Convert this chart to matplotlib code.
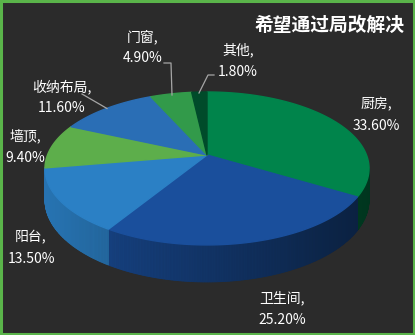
import numpy as np
import matplotlib.pyplot as plt
from matplotlib.patches import Polygon, Rectangle
from matplotlib.colors import to_rgb

plt.rcParams['font.family'] = ['Noto Sans CJK SC', 'DejaVu Sans']

# data
labels = ["厨房", "卫生间", "阳台", "墙顶", "收纳布局", "门窗", "其他"]
values = [33.6, 25.2, 13.5, 9.4, 11.6, 4.9, 1.8]
colors = ["#00844b", "#1a4f9c", "#2b80c5", "#5dae4b", "#2a6eb5", "#329a4a", "#004b2a"]
title = "希望通过局改解决"

# pie geometry in pixel space (perspective-projected disc)
cx, cy = 207, 155
A, B, K = 159.5, 74.1, 0.176
H = 30.5


def top_pt(th):
    u, v = np.sin(th), np.cos(th)
    s = 1 + K * v
    return cx + A * u / s, cy - B * v / s


def bot_pt(th):
    x, y = top_pt(th)
    v = np.cos(th)
    return x, y + H / (1 + K * v)


fig = plt.figure(figsize=(4.15, 3.35), dpi=100)
fig.patch.set_facecolor("#2b2b2b")
ax = fig.add_axes([0, 0, 1, 1])
ax.set_xlim(0, 415)
ax.set_ylim(335, 0)
ax.axis("off")

ax.add_patch(Rectangle((1, 1), 413, 333, fill=False, edgecolor="#5ab44a", linewidth=2.2))

fracs = np.array(values) / sum(values)
edges = np.concatenate([[0], np.cumsum(fracs)]) * 2 * np.pi

# side walls: only the part between the silhouette points is visible
vis_lo = np.arccos(-K)
vis_hi = 2 * np.pi - vis_lo
for i, c in enumerate(colors):
    a0, a1 = edges[i], edges[i + 1]
    lo, hi = max(a0, vis_lo), min(a1, vis_hi)
    if lo >= hi:
        continue
    ts = np.linspace(lo, hi, max(3, int((hi - lo) * 120)))
    rgb = np.array(to_rgb(c))
    for t0, t1 in zip(ts[:-1], ts[1:]):
        p0, p1 = top_pt(t0), top_pt(t1)
        q0, q1 = bot_pt(t0), bot_pt(t1)
        xm = (p0[0] + p1[0]) / 2
        f = 0.9 - (xm - 46) / 311 * 0.48
        f = min(max(f, 0.4), 0.92)
        col = rgb * f
        ax.add_patch(Polygon([p0, p1, q1, q0], closed=True, facecolor=col,
                             edgecolor=col, linewidth=0.6))

# top face
for i, c in enumerate(colors):
    ts = np.linspace(edges[i], edges[i + 1], max(4, int((edges[i + 1] - edges[i]) * 60)))
    pts = [(cx, cy)] + [top_pt(t) for t in ts]
    ax.add_patch(Polygon(pts, closed=True, facecolor=c, edgecolor=c,
                         linewidth=1.0, joinstyle="round"))

# labels
label_pos = [(376, 115), (282, 309), (31, 248), (25, 147), (62, 97), (143, 47), (238, 61)]
for lab, val, (x, y) in zip(labels, values, label_pos):
    ax.text(x, y, f"{lab},\n{val:.2f}%", color="white", fontsize=10,
            ha="center", va="center", linespacing=1.65)

# leader lines
lc = "#a6a6a6"
ax.plot([164, 171, 172], [63, 63, 95], color=lc, lw=0.9)
ax.plot([214, 208, 199], [75, 75, 93], color=lc, lw=0.9)
ax.plot([82, 107], [94, 108.5], color=lc, lw=0.9)

ax.text(405, 25, title, color="white", fontsize=13.5, fontweight="bold",
        ha="right", va="center")

fig.savefig("out.png", dpi=100, facecolor=fig.get_facecolor())
